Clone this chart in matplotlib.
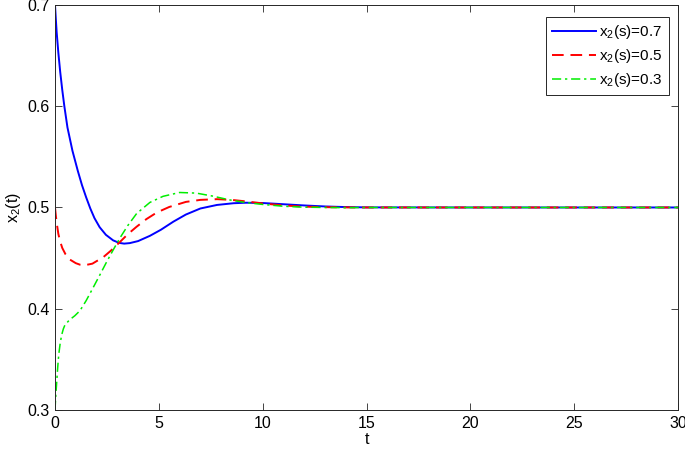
import matplotlib as mpl
import matplotlib.pyplot as plt
import matplotlib.ticker as ticker

mpl.rcParams['font.family'] = ['Liberation Sans', 'DejaVu Sans']
mpl.rcParams['mathtext.fontset'] = 'custom'
mpl.rcParams['mathtext.rm'] = 'Liberation Sans'
mpl.rcParams['font.size'] = 11.5

# values
t_blue = [0, 0.04, 0.08, 0.16, 0.25, 0.35, 0.45, 0.6, 0.84, 1.1, 1.3, 1.5, 1.7,
          1.9, 2.15, 2.45, 2.8, 3.1, 3.33, 3.6, 4.0, 4.57, 5.1, 5.7, 6.3, 7.0,
          7.8, 8.6, 9.2, 10, 11, 12, 13, 14, 15, 20, 25, 30]
x_blue = [0.7, 0.686, 0.673, 0.653, 0.634, 0.616, 0.6, 0.579, 0.556, 0.536, 0.522,
          0.510, 0.499, 0.4895, 0.4805, 0.473, 0.4675, 0.4650, 0.4643, 0.4648,
          0.4668, 0.472, 0.478, 0.486, 0.493, 0.499, 0.5025, 0.5042, 0.5047,
          0.5044, 0.5032, 0.502, 0.501, 0.5004, 0.5001, 0.5, 0.5, 0.5]

t_red = [0, 0.04, 0.08, 0.16, 0.24, 0.35, 0.5, 0.72, 1.0, 1.2, 1.44, 1.8, 2.33,
         2.7, 3.13, 3.5, 3.93, 4.4, 4.9, 5.5, 6.3, 7.0, 7.8, 8.5, 9.2, 10, 11,
         12, 13, 14, 15, 20, 25, 30]
x_red = [0.5, 0.492, 0.485, 0.474, 0.467, 0.46, 0.454, 0.4485, 0.445, 0.4435,
         0.443, 0.4445, 0.451, 0.4575, 0.466, 0.4735, 0.481, 0.4885, 0.495,
         0.5005, 0.5055, 0.5075, 0.5082, 0.5075, 0.506, 0.504, 0.502, 0.5008,
         0.5003, 0.5001, 0.5, 0.5, 0.5, 0.5]

t_green = [0, 0.02, 0.04, 0.07, 0.1, 0.13, 0.16, 0.2, 0.25, 0.32, 0.4, 0.48,
           0.7, 0.95, 1.2, 1.5, 1.84, 2.15, 2.48, 2.8, 3.13, 3.5, 3.93, 4.57,
           5.2, 6.0, 6.8, 7.6, 8.4, 9.2, 10, 11, 12, 13, 14, 15, 20, 25, 30]
x_green = [0.3, 0.308, 0.315, 0.324, 0.333, 0.342, 0.35, 0.358, 0.366, 0.374,
           0.38, 0.384, 0.389, 0.393, 0.398, 0.408, 0.421, 0.433, 0.446, 0.458,
           0.470, 0.482, 0.494, 0.505, 0.511, 0.5148, 0.5142, 0.5112, 0.5075,
           0.5048, 0.503, 0.5012, 0.5003, 0.5, 0.4998, 0.5, 0.5, 0.5, 0.5]

labels = ['x$_\\mathregular{2}$(s)=0.7', 'x$_\\mathregular{2}$(s)=0.5',
          'x$_\\mathregular{2}$(s)=0.3']

fig = plt.figure(figsize=(6.85, 4.53), dpi=100)
ax = fig.add_axes([0.0803, 0.095, 0.9095, 0.894])

ax.plot(t_blue, x_blue, color='#0000ff', linewidth=1.4, label=labels[0])
ax.plot(t_red, x_red, color='#ff0000', linewidth=1.4, linestyle=(0, (6, 3.5)),
        label=labels[1])
ax.plot(t_green, x_green, color='#00ee00', linewidth=1.1,
        linestyle=(0, (6, 2.5, 1.5, 2.5)), label=labels[2])

ax.set_xlim(0, 30)
ax.set_ylim(0.3, 0.7)
ax.xaxis.set_major_locator(ticker.MultipleLocator(5))
ax.yaxis.set_major_locator(ticker.MultipleLocator(0.1))
ax.tick_params(direction='in', top=True, right=True, length=5, width=0.6,
               colors='#262626', labelcolor='black', pad=4)
for spine in ax.spines.values():
    spine.set_linewidth(0.7)
    spine.set_color('#262626')

ax.set_xlabel('t', labelpad=1)
ax.set_ylabel('x$_\\mathregular{2}$(t)', labelpad=3)

leg = ax.legend(loc='upper right', bbox_to_anchor=(0.9855, 0.97), fancybox=False,
                edgecolor='#262626', framealpha=1, handlelength=2.9,
                borderpad=0.4, labelspacing=0.38, handletextpad=0.2,
                borderaxespad=0, fontsize=11)
leg.get_frame().set_linewidth(0.7)

plt.savefig('out.png', dpi=100)
plt.close()
